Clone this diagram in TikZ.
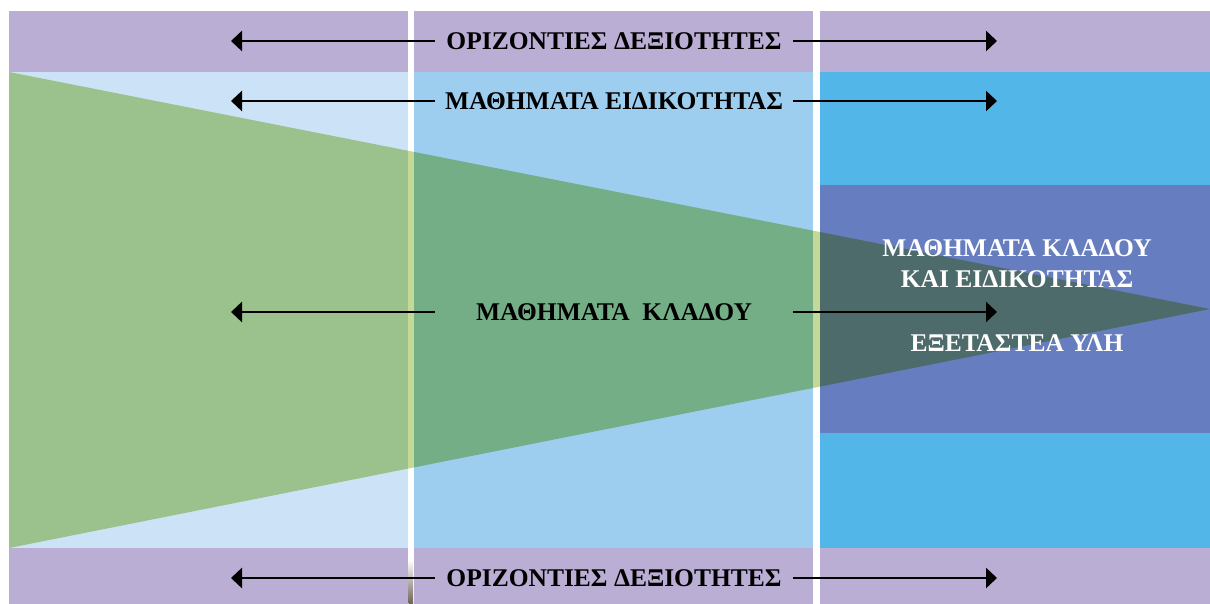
\documentclass[tikz,border=0pt]{standalone}
\usepackage{fontspec}
\setmainfont{Liberation Serif}
\usetikzlibrary{arrows.meta}
\definecolor{purp}{RGB}{187,174,212}
\definecolor{lblue}{RGB}{204,227,247}
\definecolor{mblue}{RGB}{157,206,240}
\definecolor{bblue}{RGB}{82,182,232}
\definecolor{dblue}{RGB}{102,126,191}
\definecolor{gwhite}{RGB}{197,217,150}
\definecolor{glblue}{RGB}{155,193,140}
\definecolor{gmblue}{RGB}{116,174,134}
\definecolor{gdblue}{RGB}{77,107,106}
\definecolor{brownish}{RGB}{110,95,85}
\tikzset{
  rowlabel/.style={font=\bfseries\fontsize{25.5}{28}\selectfont, text=black, minimum width=358pt, inner xsep=0pt, inner ysep=2pt},
  whitelabel/.style={font=\bfseries\fontsize{25.5}{28}\selectfont, text=white, inner sep=1pt},
  arr/.style={line width=2.8pt, -{Triangle[length=11pt,width=20pt]}}
}
\begin{document}
\begin{tikzpicture}[x=1pt,y=-1pt]
\useasboundingbox (0,0) rectangle (1210,604);
\fill[white] (0,0) rectangle (1210,604);
% columns
\fill[purp] (9,11) rectangle (408,72);
\fill[purp] (414,11) rectangle (813,72);
\fill[purp] (820,11) rectangle (1210,72);
\fill[lblue] (9,72) rectangle (408,548);
\fill[mblue] (414,72) rectangle (813,548);
\fill[bblue] (820,72) rectangle (1210,548);
\fill[dblue] (820,185) rectangle (1210,433);
\fill[purp] (9,548) rectangle (408,604);
\fill[purp] (414,548) rectangle (813,604);
\fill[purp] (820,548) rectangle (1210,604);
% artifact in gap
\shade[top color=white, bottom color=brownish] (408.5,560) rectangle (413,604);
% green triangle (multiplied over background)
\begin{scope}
\clip (9,72) -- (1210,309) -- (9,548) -- cycle;
\fill[glblue] (9,72) rectangle (408,548);
\fill[gwhite] (408,72) rectangle (414,548);
\fill[gmblue] (414,72) rectangle (813,548);
\fill[gwhite] (813,72) rectangle (820,548);
\fill[gdblue] (820,72) rectangle (1210,548);
\end{scope}
% labels and arrows
\node[rowlabel] (t1) at (614,41) {ΟΡΙΖΟΝΤΙΕΣ ΔΕΞΙΟΤΗΤΕΣ};
\node[rowlabel] (t2) at (614,101) {ΜΑΘΗΜΑΤΑ ΕΙΔΙΚΟΤΗΤΑΣ};
\node[rowlabel] (t3) at (614,312) {ΜΑΘΗΜΑΤΑ\ \ ΚΛΑΔΟΥ};
\node[rowlabel] (t4) at (614,578) {ΟΡΙΖΟΝΤΙΕΣ ΔΕΞΙΟΤΗΤΕΣ};
\coordinate (l1) at (231,41); \coordinate (r1) at (997,41);
\coordinate (l2) at (231,101); \coordinate (r2) at (997,101);
\coordinate (l3) at (231,312); \coordinate (r3) at (997,312);
\coordinate (l4) at (231,578); \coordinate (r4) at (997,578);
\foreach \i in {1,2,3,4}{
  \draw[arr] (t\i.west) -- (l\i);
  \draw[arr] (t\i.east) -- (r\i);
}
\node[whitelabel] (w1) at (1017,248) {ΜΑΘΗΜΑΤΑ ΚΛΑΔΟΥ};
\node[whitelabel] (w2) at (1017,279) {ΚΑΙ ΕΙΔΙΚΟΤΗΤΑΣ};
\node[whitelabel] (w3) at (1017,343) {ΕΞΕΤΑΣΤΕΑ ΥΛΗ};
\end{tikzpicture}
\end{document}
